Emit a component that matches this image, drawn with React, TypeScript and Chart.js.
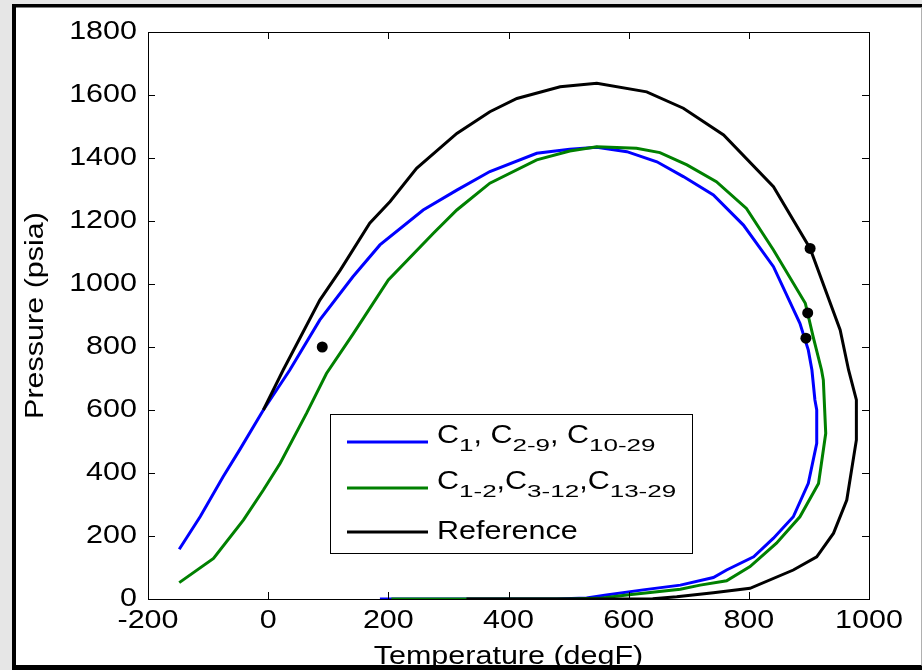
import { useEffect, useRef } from "react";
import { Chart, registerables } from "chart.js";

Chart.register(...registerables);

// ---- data ----
const xTicks = [-200, 0, 200, 400, 600, 800, 1000];
const yTicks = [0, 200, 400, 600, 800, 1000, 1200, 1400, 1600, 1800];

const lumpAT = [-148, -113, -75, -47, -8, 36, 86, 141, 186, 258, 314, 369, 447, 502, 547, 597, 647, 691, 741, 791, 841, 885, 899, 905, 910, 913, 913, 899, 874, 841, 808, 763, 741, 686, 624, 563, 530, 480, 186];
const lumpAP = [158, 262, 388, 475, 600, 727, 886, 1023, 1124, 1235, 1298, 1357, 1415, 1428, 1434, 1420, 1388, 1341, 1283, 1187, 1055, 875, 790, 727, 632, 600, 494, 367, 261, 193, 134, 92, 68, 44, 29, 13, 3, 0, 0];

const lumpBT = [-148, -91, -41, -8, 20, 64, 97, 142, 200, 275, 314, 369, 447, 502, 547, 613, 652, 697, 746, 796, 841, 894, 907, 921, 924, 928, 916, 885, 846, 802, 763, 719, 686, 597, 550, 500, 205];
const lumpBP = [52, 129, 251, 346, 431, 590, 716, 843, 1013, 1161, 1235, 1320, 1394, 1422, 1436, 1431, 1417, 1378, 1325, 1240, 1108, 939, 833, 727, 695, 526, 367, 261, 177, 103, 58, 44, 31, 13, 2, 0, 0];

const refT = [-8, 25, 86, 120, 169, 203, 247, 314, 369, 414, 486, 547, 630, 691, 758, 841, 902, 952, 966, 979, 979, 963, 941, 913, 874, 802, 741, 680, 640, 600, 330];
const refP = [600, 727, 949, 1044, 1193, 1262, 1367, 1478, 1547, 1589, 1626, 1637, 1610, 1558, 1473, 1309, 1113, 854, 727, 632, 505, 314, 209, 134, 92, 34, 20, 7, 1, 0, 0];

const dotT = [90, 902, 898, 895];
const dotP = [800, 1113, 908, 828];

const seriesLabels = ["C_{1}, C_{2-9}, C_{10-29}", "C_{1-2},C_{3-12},C_{13-29}", "Reference"];
const seriesColors = ["#0000ff", "#008000", "#000000"];

const xTitle = "Temperature (degF)";
const yTitle = "Pressure (psia)";

// ---- styling constants ----
const FONT = "'Liberation Sans', Arial, Helvetica, sans-serif";
const TEXT_STRETCH = 1.22;
const SUB_STRETCH = 1.53;

const pts = (xs: number[], ys: number[]) => xs.map((x, i) => ({ x, y: ys[i] }));

function parseLabel(s: string): { t: string; sub: boolean }[] {
  const out: { t: string; sub: boolean }[] = [];
  const re = /_\{([^}]*)\}/g;
  let last = 0;
  let m: RegExpExecArray | null;
  while ((m = re.exec(s))) {
    if (m.index > last) out.push({ t: s.slice(last, m.index), sub: false });
    out.push({ t: m[1], sub: true });
    last = m.index + m[0].length;
  }
  if (last < s.length) out.push({ t: s.slice(last), sub: false });
  return out;
}

export default function App() {
  const ref = useRef<HTMLCanvasElement | null>(null);

  useEffect(() => {
    const canvas = ref.current!;
    const ctx = canvas.getContext("2d") as any;
    const raw = ctx.fillText.bind(ctx);
    ctx.fillText = function (text: string, x: number, y: number) {
      ctx.save();
      ctx.translate(x, y);
      ctx.scale(TEXT_STRETCH, 1);
      raw(text, 0, 0);
      ctx.restore();
    };

    const framePlugin = {
      id: "frame",
      beforeDraw(chart: any) {
        const c = chart.ctx;
        const W = chart.width, H = chart.height;
        c.save();
        c.fillStyle = "#ffffff";
        c.fillRect(0, 0, W, H);
        c.fillStyle = "#e6e6e6";
        c.fillRect(0, 0, W, 4);
        c.fillRect(0, 0, 12, H);
        c.restore();
      },
      afterDraw(chart: any) {
        const c = chart.ctx;
        const a = chart.chartArea;
        const xs = chart.scales.x, ys = chart.scales.y;
        const W = chart.width, H = chart.height;
        c.save();
        c.strokeStyle = "#000";
        c.lineWidth = 1;
        c.strokeRect(Math.round(a.left) + 0.5, Math.round(a.top) + 0.5, Math.round(a.right - a.left), Math.round(a.bottom - a.top));
        const L = 7;
        c.beginPath();
        xTicks.forEach((v) => {
          const px = Math.round(xs.getPixelForValue(v)) + 0.5;
          c.moveTo(px, a.bottom);
          c.lineTo(px, a.bottom - L);
          c.moveTo(px, a.top);
          c.lineTo(px, a.top + L);
        });
        yTicks.forEach((v) => {
          const py = Math.round(ys.getPixelForValue(v)) + 0.5;
          c.moveTo(a.left, py);
          c.lineTo(a.left + L, py);
          c.moveTo(a.right, py);
          c.lineTo(a.right - L, py);
        });
        c.stroke();

        // legend
        const bx = 330, by = 414, bw = 362, bh = 139;
        c.fillStyle = "#fff";
        c.fillRect(bx, by, bw, bh);
        c.strokeRect(bx + 0.5, by + 0.5, bw, bh);
        const lineYs = [442, 488, 532];
        const baseYs = [443, 489, 539];
        seriesLabels.forEach((lab, i) => {
          c.strokeStyle = seriesColors[i];
          c.lineWidth = 3;
          c.beginPath();
          c.moveTo(347, lineYs[i]);
          c.lineTo(428, lineYs[i]);
          c.stroke();
          let x = 437;
          c.fillStyle = "#000";
          c.textAlign = "left";
          c.textBaseline = "alphabetic";
          parseLabel(lab).forEach((seg) => {
            if (seg.sub) {
              c.font = `17px ${FONT}`;
              const w = c.measureText(seg.t).width * SUB_STRETCH;
              c.save();
              c.translate(x, baseYs[i] + 8);
              c.scale(SUB_STRETCH, 1);
              raw(seg.t, 0, 0);
              c.restore();
              x += w;
            } else {
              c.font = `25px ${FONT}`;
              const w = c.measureText(seg.t).width * TEXT_STRETCH;
              c.fillText(seg.t, x, baseYs[i]);
              x += w;
            }
          });
        });

        // outer figure frame
        c.fillStyle = "#000";
        c.fillRect(12, 4, W - 12, 3.5);
        c.fillRect(12, 4, 4, H - 4);
        c.fillRect(12, H - 5, W - 12, 5);
        c.fillStyle = "#b0b0b0";
        c.fillRect(W - 1, 7.5, 1, H - 12);
        c.restore();
      },
    };

    const line = (data: any, color: string) => ({
      data,
      showLine: true,
      borderColor: color,
      backgroundColor: color,
      borderWidth: 3,
      pointRadius: 0,
      pointHoverRadius: 0,
      tension: 0,
      fill: false,
    });

    const chart = new Chart(canvas, {
      type: "scatter",
      data: {
        datasets: [
          {
            data: pts(dotT, dotP),
            showLine: false,
            pointRadius: 5.5,
            pointBackgroundColor: "#000",
            pointBorderWidth: 0,
            backgroundColor: "#000",
          } as any,
          line(pts(refT, refP), seriesColors[2]),
          line(pts(lumpBT, lumpBP), seriesColors[1]),
          line(pts(lumpAT, lumpAP), seriesColors[0]),
        ],
      },
      options: {
        responsive: false,
        animation: false,
        events: [],
        layout: { padding: { left: 0, top: 32, right: 53, bottom: 0 } },
        plugins: { legend: { display: false }, tooltip: { enabled: false } },
        scales: {
          x: {
            type: "linear",
            min: -200,
            max: 1000,
            afterBuildTicks: (s: any) => {
              s.ticks = xTicks.map((v) => ({ value: v }));
            },
            afterFit: (s: any) => {
              s.height = 71;
            },
            grid: { display: false, drawTicks: false },
            border: { display: false },
            ticks: {
              color: "#000",
              padding: 7,
              font: { family: FONT, size: 25 },
              autoSkip: false,
              maxRotation: 0,
              callback: (v: any) => String(v),
            },
            title: { display: true, text: xTitle, color: "#000", font: { family: FONT, size: 25 }, padding: { top: 0, bottom: -2 } },
          },
          y: {
            type: "linear",
            min: 0,
            max: 1800,
            afterBuildTicks: (s: any) => {
              s.ticks = yTicks.map((v) => ({ value: v }));
            },
            afterFit: (s: any) => {
              s.width = 148;
            },
            grid: { display: false, drawTicks: false },
            border: { display: false },
            ticks: {
              color: "#000",
              padding: 11,
              font: { family: FONT, size: 25 },
              autoSkip: false,
              callback: (v: any) => String(v),
            },
            title: { display: true, text: yTitle, color: "#000", font: { family: FONT, size: 25 }, padding: { top: 21, bottom: 0 } },
          },
        },
      },
      plugins: [framePlugin],
    });

    return () => {
      chart.destroy();
      delete ctx.fillText;
    };
  }, []);

  return (
    <canvas
      ref={ref}
      width={922}
      height={670}
      style={{ position: "absolute", left: 0, top: 0, width: 922, height: 670 }}
    />
  );
}
